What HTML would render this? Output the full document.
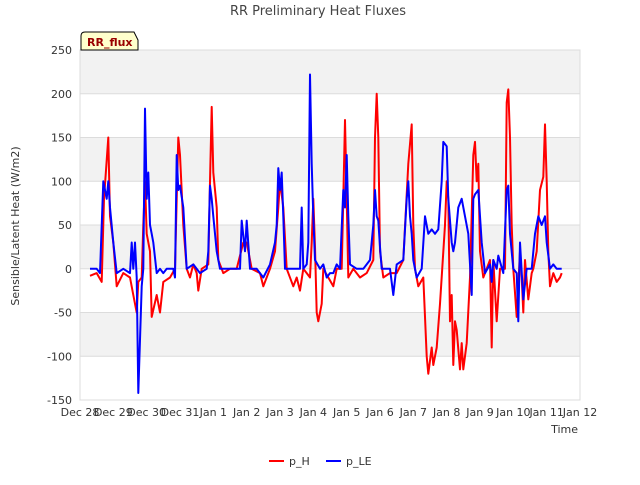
<!DOCTYPE html>
<html><head><meta charset="utf-8"><style>
body{margin:0;background:#fff;font-family:"Liberation Sans","DejaVu Sans",sans-serif;}
</style></head><body>
<svg width="640" height="480" viewBox="0 0 640 480" font-family="DejaVu Sans, Liberation Sans, sans-serif">
<text x="318" y="15" text-anchor="middle" font-size="13" fill="#444">RR Preliminary Heat Fluxes</text>
<g id="plot"></g>
<text transform="translate(19,226) rotate(-90)" text-anchor="middle" font-size="11" fill="#333">Sensible/Latent Heat (W/m2)</text>
<text x="578" y="433" text-anchor="end" font-size="11" fill="#333">Time</text>
<g>
<path d="M81,50 L81,36 Q81,32 85,32 L134,32 L138,40 L138,50 Z" fill="#ffffcc" stroke="#000" stroke-width="1"/>
<text x="87" y="46" font-size="11" font-weight="bold" fill="#990000">RR_flux</text>
</g>
<g>
<line x1="269" y1="461" x2="284" y2="461" stroke="#ff0000" stroke-width="2"/>
<text x="289" y="465" font-size="11" fill="#333">p_H</text>
<line x1="326" y1="461" x2="341" y2="461" stroke="#0000ff" stroke-width="2"/>
<text x="346" y="465" font-size="11" fill="#333">p_LE</text>
</g>
</svg>
<script>
const xTickLabels=["Dec 28","Dec 29","Dec 30","Dec 31","Jan 1","Jan 2","Jan 3","Jan 4","Jan 5","Jan 6","Jan 7","Jan 8","Jan 9","Jan 10","Jan 11","Jan 12"];
const yTicks=[-150,-100,-50,0,50,100,150,200,250];
const tH=[0.3,0.5,0.65,0.72,0.85,0.9,1.0,1.1,1.3,1.5,1.6,1.7,1.75,1.85,1.9,1.95,2.0,2.1,2.15,2.3,2.4,2.5,2.7,2.85,2.9,2.95,3.0,3.1,3.2,3.3,3.4,3.5,3.55,3.65,3.85,3.9,3.95,4.0,4.1,4.15,4.3,4.5,4.7,4.9,5.0,5.15,5.4,5.5,5.7,5.85,5.95,6.0,6.1,6.2,6.4,6.5,6.6,6.7,6.8,6.9,6.95,7.0,7.05,7.1,7.15,7.25,7.3,7.45,7.6,7.7,7.85,7.9,7.95,8.0,8.05,8.2,8.4,8.6,8.8,8.85,8.9,8.95,9.0,9.1,9.3,9.5,9.7,9.85,9.95,10.0,10.05,10.15,10.3,10.4,10.45,10.55,10.6,10.7,10.8,10.95,11.0,11.05,11.1,11.15,11.2,11.25,11.3,11.4,11.45,11.5,11.6,11.7,11.8,11.85,11.9,11.95,12.0,12.1,12.2,12.3,12.35,12.4,12.5,12.6,12.75,12.8,12.85,12.9,12.95,13.0,13.1,13.2,13.25,13.3,13.35,13.45,13.55,13.6,13.7,13.8,13.9,13.95,14.0,14.05,14.1,14.2,14.3,14.4,14.45];
const vH=[-8,-5,-15,80,150,60,30,-20,-5,-10,-30,-50,-15,-10,50,100,40,20,-55,-30,-50,-15,-10,0,80,150,130,50,0,-10,5,-5,-25,0,5,100,185,110,70,10,-5,0,0,30,30,0,-5,-20,0,20,70,100,70,0,-20,-10,-25,0,-5,-10,30,80,25,-50,-60,-40,0,-10,-20,0,0,80,170,80,-10,0,-10,-5,10,150,200,150,20,-10,-5,-5,10,120,165,50,0,-20,-10,-100,-120,-90,-110,-90,-40,50,100,80,-60,-30,-110,-60,-70,-115,-85,-115,-85,-10,130,145,100,120,20,-10,0,10,-90,10,-60,0,0,190,205,150,50,0,-55,20,-10,-50,10,-35,-5,0,20,90,105,165,100,20,-20,-5,-15,-10,-5];
const tLE=[0.3,0.5,0.6,0.7,0.8,0.85,0.9,1.0,1.1,1.3,1.5,1.55,1.6,1.65,1.7,1.75,1.85,1.9,1.95,2.0,2.05,2.1,2.15,2.2,2.3,2.4,2.5,2.6,2.8,2.85,2.9,2.95,3.0,3.1,3.2,3.4,3.6,3.8,3.85,3.9,3.95,4.0,4.1,4.2,4.5,4.8,4.85,4.95,5.0,5.1,5.3,5.5,5.7,5.85,5.9,5.95,6.0,6.05,6.1,6.15,6.3,6.5,6.6,6.65,6.7,6.8,6.85,6.9,6.95,7.0,7.05,7.2,7.3,7.4,7.5,7.6,7.7,7.8,7.9,7.95,8.0,8.05,8.1,8.3,8.5,8.7,8.8,8.85,8.9,8.95,9.0,9.05,9.3,9.4,9.5,9.7,9.8,9.85,9.9,9.95,10.0,10.1,10.25,10.35,10.45,10.55,10.65,10.75,10.85,10.9,11.0,11.05,11.15,11.2,11.25,11.35,11.45,11.55,11.65,11.75,11.8,11.85,11.95,12.05,12.15,12.3,12.35,12.4,12.5,12.55,12.7,12.8,12.85,12.9,13.0,13.1,13.15,13.2,13.3,13.4,13.55,13.65,13.75,13.85,13.95,14.0,14.1,14.2,14.3,14.45];
const vLE=[0,0,-5,100,80,100,70,30,-5,0,-5,30,0,30,-10,-142,-20,0,183,80,110,50,40,30,-5,0,-5,0,0,-10,130,90,95,70,0,5,-5,0,20,95,80,60,20,0,0,0,55,20,55,0,0,-10,5,30,50,115,90,110,60,0,0,0,0,70,0,5,30,222,120,60,10,0,5,-10,-5,-5,5,0,90,70,130,60,5,0,0,10,50,90,60,55,25,0,0,-30,5,10,80,100,60,40,10,-10,0,60,40,45,40,45,100,145,140,80,30,20,30,70,80,60,40,-30,80,85,90,30,-5,5,-15,10,0,15,-5,90,95,40,0,-5,-60,30,-35,0,0,40,60,50,60,30,0,5,0,0];
const NS="http://www.w3.org/2000/svg";
const L=80,R=580,T=50,B=400,ymin=-150,ymax=250,days=15;
const xs=d=>L+(R-L)*d/days;
const ys=v=>B-(B-T)*(v-ymin)/(ymax-ymin);
const g=document.getElementById('plot');
function mk(tag,attrs){const e=document.createElementNS(NS,tag);for(const k in attrs)e.setAttribute(k,attrs[k]);g.appendChild(e);return e;}
// bands
for(let i=0;i<yTicks.length-1;i++){
  const a=yTicks[i],b=yTicks[i+1];
  const gray=(i%2===1);
  const r=mk('rect',{x:L,y:ys(b),width:R-L,height:ys(a)-ys(b),fill:gray?'#f2f2f2':'#ffffff'});
  
  
}
yTicks.forEach(v=>{
  const l=mk('line',{x1:L,x2:R,y1:ys(v),y2:ys(v),stroke:'#dcdcdc','stroke-width':1});
  
  
  const t=mk('text',{x:L-8,y:ys(v)+4,'text-anchor':'end','font-size':11,fill:'#333'});
  t.textContent=v;
  
  
});
xTickLabels.forEach((s,i)=>{
  const t=mk('text',{x:xs(i),y:B+16,'text-anchor':'middle','font-size':11,fill:'#333'});
  t.textContent=s;
  
  
});
const frame=mk('rect',{x:L,y:T,width:R-L,height:B-T,fill:'none',stroke:'#dcdcdc'});


function series(ts,vs,color,name){
  const p=mk('polyline',{points:ts.map((t,i)=>xs(t).toFixed(1)+','+ys(vs[i]).toFixed(1)).join(' '),fill:'none',stroke:color,'stroke-width':2,'stroke-linejoin':'round'});
  
  
}
series(tH,vH,'#ff0000','series-p-h');
series(tLE,vLE,'#0000ff','series-p-le');
</script>
</body></html>
